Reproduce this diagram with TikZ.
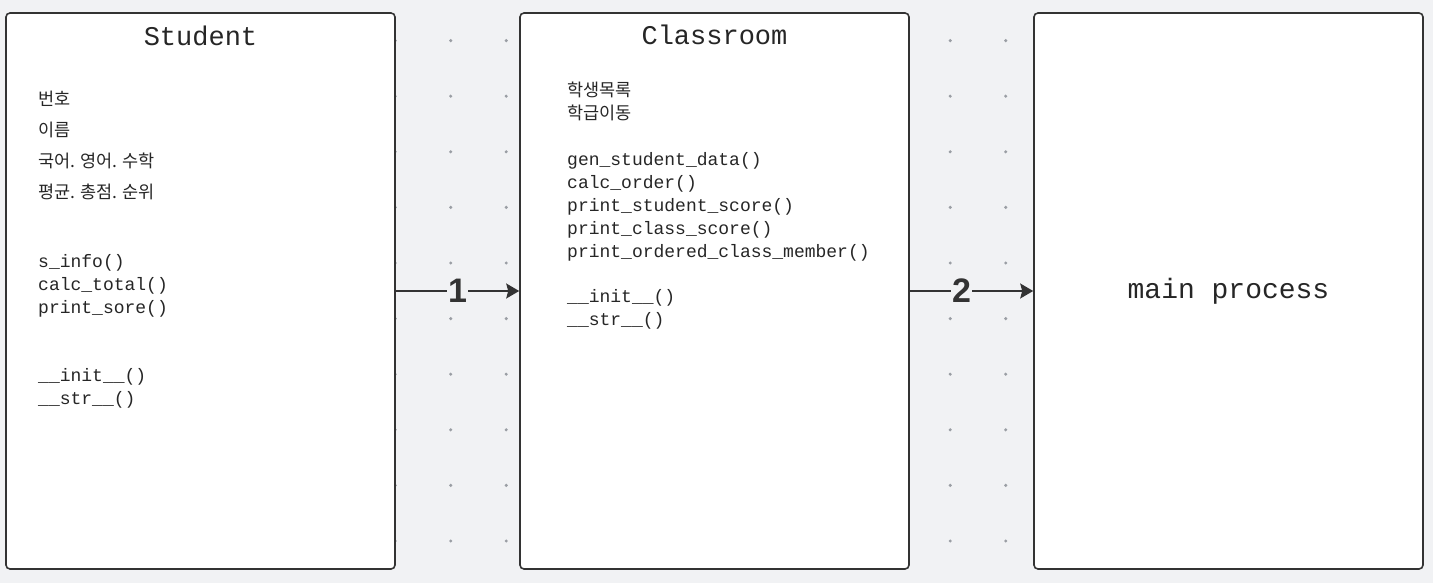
\documentclass[tikz,border=0pt]{standalone}
\usepackage{fontspec}
\setmonofont{Liberation Mono}
\newfontfamily\kofont{Noto Sans CJK KR}
\newfontfamily\numfont{Liberation Sans}
\usetikzlibrary{arrows.meta}
\definecolor{bggray}{HTML}{F1F2F4}
\definecolor{dotgray}{HTML}{9A9EA4}
\definecolor{linegray}{HTML}{333333}
\definecolor{textgray}{HTML}{262626}

\begin{document}
\begin{tikzpicture}[x=1pt, y=-1pt,
	box/.style={draw=linegray, fill=white, line width=1.6pt, rounded corners=4pt, minimum width=389pt, minimum height=556pt, inner sep=0pt},
	title/.style={font=\ttfamily\fontsize{27}{32}\selectfont, text=textgray, anchor=base},
	code/.style={font=\ttfamily\fontsize{18}{23}\selectfont, text=textgray, anchor=base west, align=left, inner sep=0pt},
	kor/.style={font=\kofont\fontsize{17.5}{#1}\selectfont, text=textgray, anchor=base west, align=left, inner sep=0pt},
	conn/.style={draw=linegray, line width=1.5pt, -{Stealth[length=13pt, width=15pt, inset=2pt]}},
	num/.style={font=\numfont\bfseries\fontsize{34}{34}\selectfont, text=linegray, fill=bggray, inner sep=1pt}]

	%% Hintergrund
	\useasboundingbox (0,0) rectangle (1433,583);
	\fill[bggray] (0,0) rectangle (1433,583);
	\foreach \i in {0,...,25}
		\foreach \j in {0,...,9}
			\fill[dotgray] (6.7+55.5*\i, 40.6+55.6*\j) circle[radius=1.7pt];

	%%%%%%%%%%%%%%%%

	%% Student (Grundlinie = letzte Zeile)
	\node[box] (student) at (200.5,291) {};
	\node[title] (stitle) at (200.5,46) {Student};
	\node[kor=31] (sattr) at (38,198) {번호\\이름\\국어. 영어. 수학\\평균. 총점. 순위};
	\node[code] (smeth) at (38,313) {s\_info()\\calc\_total()\\print\_sore()};
	\node[code] (sinit) at (38,404) {\_\_init\_\_()\\\_\_str\_\_()};

	%% Classroom
	\node[box] (classroom) at (714.5,291) {};
	\node[title] (ctitle) at (714.5,45) {Classroom};
	\node[kor=23] (cattr) at (567,120) {학생목록\\학급이동};
	\node[code] (cmeth) at (567,257) {gen\_student\_data()\\calc\_order()\\print\_student\_score()\\print\_class\_score()\\print\_ordered\_class\_member()};
	\node[code] (cinit) at (567,325) {\_\_init\_\_()\\\_\_str\_\_()};

	%% main process
	\node[box, font=\ttfamily\fontsize{28}{32}\selectfont, text=textgray] (mainproc) at (1228.5,291) {main process};

	%%%%%%%%%%%%%%%%

	%% Verbindungen
	\draw[conn] (student) -- node[num] (n1) {1} (classroom);
	\draw[conn] (classroom) -- node[num, pos=0.42] (n2) {2} (mainproc);
\end{tikzpicture}
\end{document}
